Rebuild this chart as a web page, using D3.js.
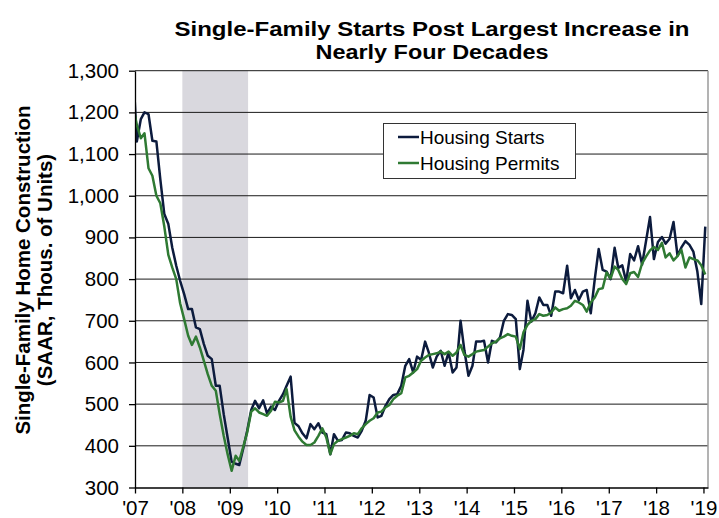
<!DOCTYPE html>
<html>

<head>
    <meta charset="UTF-8" />
    <title>single-family starts</title>
    <style>
        body {
            margin: 0;
            padding: 0;
            background-color: #ffffff;
            font-family: 'Liberation Sans', Arial, sans-serif;
        }
    </style>
</head>

<body>
    <div class="container"></div>

    <script src="https://cdnjs.cloudflare.com/ajax/libs/d3/7.8.5/d3.min.js"></script>
    <script>
        // monthly values, Dec 2006 .. Jan 2019 (SAAR, thousands)
        const firstMonth = [2006, 11];

        const starts = [1320,
            1130, 1184, 1200, 1196, 1132, 1130, 1040, 956, 932, 876, 832, 796,
            764, 728, 728, 684, 680, 644, 616, 608, 544, 544, 476, 420,
            362, 357, 354, 394, 436, 486, 508, 490, 509, 478, 494, 486,
            508, 524, 544, 566, 455, 447, 430, 418, 452, 440, 454, 432,
            428, 380, 428, 412, 414, 432, 430, 424, 420, 436, 460, 522,
            516, 468, 472, 496, 512, 522, 524, 544, 592, 608, 576, 614,
            606, 650, 624, 588, 614, 628, 592, 624, 576, 588, 700, 628,
            568, 592, 650, 650, 652, 600, 652, 648, 660, 700, 716, 714,
            704, 584, 630, 748, 698, 718, 756, 738, 738, 712, 770, 770,
            766, 832, 754, 774, 750, 770, 774, 718, 800, 872, 822, 818,
            800, 875, 827, 833, 794, 860, 845, 879, 835, 891, 949, 848,
            889, 901, 885, 897, 937, 856, 876, 891, 882, 866, 818, 740,
            926];

        const permits = [1220,
            1170, 1138, 1150, 1066, 1048, 1000, 982, 926, 858, 828, 800, 742,
            704, 664, 642, 662, 636, 604, 572, 544, 532, 476, 424, 380,
            340, 376, 364, 398, 432, 482, 490, 480, 476, 472, 484, 506,
            504, 508, 536, 470, 437, 422, 410, 402, 402, 408, 424, 442,
            420, 380, 404, 412, 416, 420, 424, 430, 428, 442, 452, 460,
            466, 480, 482, 492, 498, 512, 520, 526, 564, 568, 576, 584,
            604, 612, 618, 620, 622, 626, 620, 626, 616, 624, 642, 618,
            614, 620, 626, 628, 630, 638, 646, 650, 658, 662, 668, 664,
            662, 632, 672, 690, 700, 704, 716, 712, 714, 720, 732, 724,
            728, 730, 736, 748, 744, 738, 722, 744, 756, 776, 778, 816,
            802, 830, 822, 800, 788, 814, 817, 805, 838, 854, 869, 877,
            870, 887, 852, 862, 845, 855, 870, 828, 852, 848, 845, 833,
            811];

        const years = [2007, 2008, 2009, 2010, 2011, 2012, 2013, 2014, 2015, 2016, 2017, 2018, 2019];
        const yearLabels = ["'07", "'08", "'09", "'10", "'11", "'12", "'13", "'14", "'15", "'16", "'17", "'18", "'19"];
        const yTicks = [300, 400, 500, 600, 700, 800, 900, 1000, 1100, 1200, 1300];
        const recession = [new Date(2008, 0, 1), new Date(2009, 4, 22)];

        const seriesNames = ['Housing Starts', 'Housing Permits'];
        const seriesColors = ['#0c1b3d', '#2f7a33'];
        const titleLines = ['Single-Family Starts Post Largest Increase in', 'Nearly Four Decades'];

        const w = 719, h = 518;
        const plotL = 135, plotR = 708, plotT = 70.7, plotB = 487.5;

        const svg = d3.select(".container").append('svg')
            .attr('width', w)
            .attr('height', h)
            .style('display', 'block')
            .style('font-family', "'Liberation Sans', Arial, sans-serif")

        const x = d3.scaleTime()
            .domain([new Date(2007, 0, 1), new Date(2019, 1, 5)])
            .range([plotL, plotR]);
        const y = d3.scaleLinear().domain([300, 1300]).range([plotB, plotT]);

        const months = starts.map((d, i) => new Date(firstMonth[0], firstMonth[1] + i, 15));

        svg.append('defs').append('clipPath').attr('id', 'plot')
            .append('rect')
            .attr('x', plotL).attr('y', plotT - 10)
            .attr('width', plotR - plotL).attr('height', plotB - plotT + 10);

        // recession band
        svg.append('rect')
            .attr('x', x(recession[0]))
            .attr('y', plotT)
            .attr('width', x(recession[1]) - x(recession[0]))
            .attr('height', plotB - plotT)
            .attr('fill', '#d9d8de');

        // gridlines
        svg.append('g').selectAll('line')
            .data(yTicks.slice(1))
            .join('line')
            .attr('x1', plotL).attr('x2', plotR)
            .attr('y1', d => y(d)).attr('y2', d => y(d))
            .attr('stroke', '#1a1a1a')
            .attr('stroke-width', 1);

        // right border
        svg.append('line')
            .attr('x1', plotR).attr('x2', plotR)
            .attr('y1', plotT).attr('y2', plotB)
            .attr('stroke', '#9a9a9a')
            .attr('stroke-width', 1.5);

        // lines
        const lineGen = d3.line()
            .x((d, i) => x(months[i]))
            .y(d => y(d));

        const lines = svg.append('g').attr('clip-path', 'url(#plot)');
        [starts, permits].forEach((s, j) => {
            lines.append('path')
                .attr('d', lineGen(s))
                .attr('fill', 'none')
                .attr('stroke', seriesColors[j])
                .attr('stroke-width', 2.5)
                .attr('stroke-linejoin', 'round');
        });

        // axes
        const yAxis = svg.append('g')
            .attr('transform', `translate(${plotL},0)`)
            .call(d3.axisLeft(y).tickValues(yTicks).tickFormat(d3.format(',')).tickSize(6).tickSizeOuter(0).tickPadding(10));

        const xAxis = svg.append('g')
            .attr('transform', `translate(0,${plotB})`)
            .call(d3.axisBottom(x)
                .tickValues(years.map(yr => new Date(yr, 0, 1)))
                .tickFormat((d, i) => yearLabels[i])
                .tickSize(6).tickSizeOuter(0).tickPadding(7));

        [yAxis, xAxis].forEach(a => {
            a.selectAll('path, line').attr('stroke', '#000').attr('stroke-width', 1.3);
            a.selectAll('text')
                .attr('fill', '#000')
                .style('font-size', '20.5px')
                .style('font-family', "'Liberation Sans', Arial, sans-serif");
        });

        // title (two separate lines, stretched a bit like the original)
        const titleWidths = [515, 233];
        svg.append('g').selectAll('text')
            .data(titleLines)
            .join('text')
            .attr('x', 432)
            .attr('y', (d, i) => 36 + i * 22.5)
            .attr('text-anchor', 'middle')
            .attr('textLength', (d, i) => titleWidths[i])
            .attr('lengthAdjust', 'spacingAndGlyphs')
            .style('font-size', '19.5px')
            .style('font-weight', 'bold')
            .text(d => d);

        // y axis title
        const yTitle = ['Single-Family Home Construction', '(SAAR, Thous. of Units)'];
        svg.append('g').selectAll('text')
            .data(yTitle)
            .join('text')
            .attr('transform', (d, i) => `translate(${30 + i * 22},270) rotate(-90)`)
            .attr('text-anchor', 'middle')
            .style('font-size', '20.5px')
            .style('font-weight', 'bold')
            .text(d => d);

        // legend
        const legend = svg.append('g');
        legend.append('rect')
            .attr('x', 383.5).attr('y', 123.5)
            .attr('width', 192).attr('height', 55)
            .attr('fill', '#fff')
            .attr('stroke', '#333')
            .attr('stroke-width', 1);

        seriesNames.forEach((name, i) => {
            const cy = 137 + i * 26;
            legend.append('line')
                .attr('x1', 398).attr('x2', 419)
                .attr('y1', cy).attr('y2', cy)
                .attr('stroke', seriesColors[i])
                .attr('stroke-width', 2.5);
            legend.append('text')
                .attr('x', 420).attr('y', cy + 6.8)
                .style('font-size', '19px')
                .text(name);
        });
    </script>
</body>

</html>
